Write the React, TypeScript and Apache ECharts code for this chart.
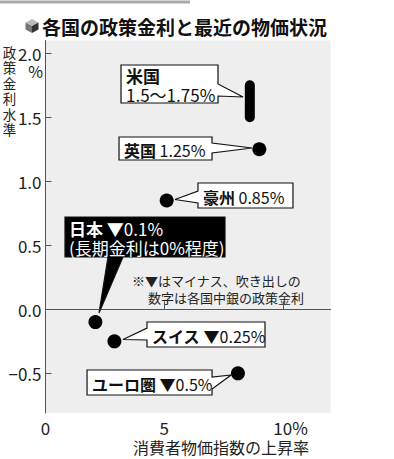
import React, { useEffect, useRef } from "react";
import * as echarts from "echarts";

// ---- data ----
const dotCountries = ["日本", "スイス", "ユーロ圏", "豪州", "英国"];
const dotCpi = [2.1, 2.9, 8.1, 5.1, 9.0];
const dotRate = [-0.1, -0.25, -0.5, 0.85, 1.25];
const usCpi = 8.6;
const usRateRange = [1.5, 1.75];

const calloutNames = ["米国", "英国", "豪州", "日本", "スイス", "ユーロ圏"];
const calloutValues = ["1.5〜1.75%", "1.25%", "0.85%", "▼0.1%", "▼0.25%", "▼0.5%"];
const japanNote = "(長期金利は0%程度)";

const xTickLabels = [0, 5, 10];
const yTickLabels = [-0.5, 0, 0.5, 1.0, 1.5, 2.0];

const titleText = "各国の政策金利と最近の物価状況";
const xAxisTitle = "消費者物価指数の上昇率";
const yAxisTitle = "政策金利水準";
const noteLines = ["※▼はマイナス、吹き出しの", "数字は各国中銀の政策金利"];

// ---- callout layout (pixel offsets from the anchor point) ----
type Layout = {
  box: number[];
  side: "left" | "right" | "bottom";
  base: number[];
  tip: number[];
  dark?: boolean;
  twoLine?: boolean;
};
const calloutLayout: Layout[] = [
  { box: [-128.8, -36.3, 97, 38], side: "right", base: [-17.3, -5.3], tip: [-6.8, -4.3], twoLine: true },
  { box: [-140.3, -12.3, 93, 23], side: "right", base: [-6.3, 3.7], tip: [-7.3, -1.3] },
  { box: [31.3, -17.5, 95, 25], side: "left", base: [-9.5, 2.5], tip: [8.3, -1] },
  { box: [-30.4, -105.1, 160, 40], side: "bottom", base: [12.6, 27.6], tip: [3.6, -9.1], dark: true },
  { box: [32.6, -19.3, 118, 25], side: "left", base: [-13.3, -1.3], tip: [8.6, -1.8] },
  { box: [-150.9, -3.3, 125, 25], side: "right", base: [3.7, 15.7], tip: [-6.9, 1.7] },
];

const FONT = "'Noto Sans CJK JP', 'Noto Sans', sans-serif";

function anchorFor(name: string): number[] {
  if (name === "米国") return [usCpi, (usRateRange[0] + usRateRange[1]) / 2];
  const i = dotCountries.indexOf(name);
  return [dotCpi[i], dotRate[i]];
}

export default function App() {
  const ref = useRef<HTMLDivElement>(null);
  useEffect(() => {
    if (!ref.current) return;
    const chart = echarts.init(ref.current, undefined, { renderer: "svg" });

    const calloutData = calloutNames.map((n, i) => {
      const a = anchorFor(n);
      return [a[0], a[1], i];
    });

    const renderItem = (params: any, api: any) => {
      const p = api.coord([api.value(0), api.value(1)]);
      const i = api.value(2);
      const lay = calloutLayout[i];
      const L = p[0] + lay.box[0];
      const T = p[1] + lay.box[1];
      const R = L + lay.box[2];
      const B = T + lay.box[3];
      const tip = [p[0] + lay.tip[0], p[1] + lay.tip[1]];
      let pts: number[][];
      if (lay.side === "right") {
        pts = [[L, T], [R, T], [R, p[1] + lay.base[0]], tip, [R, p[1] + lay.base[1]], [R, B], [L, B]];
      } else if (lay.side === "left") {
        pts = [[L, T], [R, T], [R, B], [L, B], [L, p[1] + lay.base[1]], tip, [L, p[1] + lay.base[0]]];
      } else {
        pts = [[L, T], [R, T], [R, B], [p[0] + lay.base[1], B], tip, [p[0] + lay.base[0], B], [L, B]];
      }
      const name = calloutNames[i];
      const val = calloutValues[i];
      let text: string;
      if (lay.twoLine) text = `{b|${name}}\n{n|${val}}`;
      else if (lay.dark) text = `{b|${name}} {n|${val}}\n{n|${japanNote}}`;
      else text = `{b|${name}} {n|${val}}`;
      const fill = lay.dark ? "#ffffff" : "#111111";
      const fs = lay.twoLine || lay.dark ? 17 : 16;
      return {
        type: "group",
        children: [
          {
            type: "polygon",
            shape: { points: pts },
            style: {
              fill: lay.dark ? "#000000" : "#ffffff",
              stroke: "#111111",
              lineWidth: 1.2,
              lineJoin: "miter",
            },
          },
          {
            type: "text",
            x: L + (lay.dark ? 4 : 5),
            y: (T + B) / 2 + 1,
            style: {
              text,
              align: "left",
              verticalAlign: "middle",
              fill,
              fontFamily: FONT,
              fontSize: fs,
              rich: {
                b: { fontWeight: "bold", fontSize: fs, lineHeight: 19, fill, fontFamily: FONT },
                n: { fontSize: fs, lineHeight: 19, fill, fontFamily: FONT },
              },
            },
          },
        ],
      };
    };

    const yTitleChars = yAxisTitle.split("").map((ch, k) => ({
      type: "text",
      x: 9.5,
      y: 51.5 + k * 15.5,
      style: {
        text: ch,
        fontSize: 13.5,
        fontFamily: FONT,
        fill: "#222",
        align: "center",
        verticalAlign: "middle",
      },
    }));

    const option: any = {
      animation: false,
      grid: {
        left: 45.5,
        right: 63.4,
        top: 40.5,
        bottom: 46,
        show: true,
        backgroundColor: "#eeeeee",
        borderWidth: 0,
      },
      xAxis: {
        type: "value",
        min: 0,
        max: 12,
        interval: 5,
        splitLine: { show: false },
        axisLine: { show: true, lineStyle: { color: "#555", width: 1 } },
        axisTick: { show: true, inside: true, length: 8, customValues: [5, 10], lineStyle: { color: "#555" } },
        axisLabel: {
          customValues: xTickLabels,
          margin: 6,
          color: "#222",
          fontSize: 17,
          fontFamily: FONT,
          formatter: (v: number) => (v === 10 ? "{p|10%}" : String(v)),
          rich: { p: { padding: [0, 0, 0, 15], fontSize: 17, color: "#222", fontFamily: FONT } },
        },
      },
      yAxis: {
        type: "value",
        min: -0.81,
        max: 2.1,
        splitLine: { show: false },
        axisLine: { show: true, lineStyle: { color: "#555", width: 1 } },
        axisTick: { show: true, inside: true, length: 6, customValues: yTickLabels, lineStyle: { color: "#555" } },
        axisLabel: {
          customValues: yTickLabels,
          margin: 4,
          color: "#222",
          fontSize: 17,
          fontFamily: FONT,
          formatter: (v: number) => (v < 0 ? "−" + Math.abs(v).toFixed(1) : v.toFixed(1)),
        },
      },
      series: [
        {
          type: "scatter",
          data: dotCpi.map((x, i) => [x, dotRate[i]]),
          symbolSize: 14,
          itemStyle: { color: "#000000", opacity: 1 },
          markLine: {
            silent: true,
            symbol: ["none", "none"],
            label: { show: false },
            lineStyle: { type: [1.5, 2], color: "#555", width: 1 },
            data: [{ yAxis: 0 }],
          },
          z: 3,
        },
        {
          type: "line",
          data: usRateRange.map((r) => [usCpi, r]),
          symbol: "none",
          lineStyle: { color: "#000000", width: 10, cap: "round", opacity: 1 },
          z: 3,
        },
        {
          type: "custom",
          data: calloutData,
          renderItem,
          z: 4,
        },
      ],
      graphic: [
        { type: "line", shape: { x1: 0, y1: 2, x2: 190, y2: 2 }, style: { stroke: "#aaaaaa", lineWidth: 3 } },
        { type: "polygon", shape: { points: [[32, 19], [38.5, 22.5], [32, 26], [25.5, 22.5]] }, style: { fill: "#bbbbbb" } },
        { type: "polygon", shape: { points: [[25.5, 22.5], [32, 26], [32, 33], [25.5, 29.5]] }, style: { fill: "#777777" } },
        { type: "polygon", shape: { points: [[32, 26], [38.5, 22.5], [38.5, 29.5], [32, 33]] }, style: { fill: "#333333" } },
        {
          type: "text",
          x: 42,
          y: 26,
          style: { text: titleText, fontSize: 19, fontWeight: "bold", fontFamily: FONT, fill: "#111", verticalAlign: "middle" },
        },
        ...yTitleChars,
        {
          type: "text",
          x: 35.5,
          y: 71,
          style: { text: "%", fontSize: 16, fontFamily: FONT, fill: "#222", align: "center", verticalAlign: "middle" },
        },
        {
          type: "text",
          x: 221,
          y: 447,
          style: { text: xAxisTitle, fontSize: 16, fontFamily: FONT, fill: "#222", align: "center", verticalAlign: "middle" },
        },
        {
          type: "text",
          x: 132,
          y: 280.5,
          style: { text: noteLines[0], fontSize: 13, fontFamily: FONT, fill: "#222", verticalAlign: "middle" },
        },
        {
          type: "text",
          x: 148,
          y: 297,
          style: { text: noteLines[1], fontSize: 13, fontFamily: FONT, fill: "#222", verticalAlign: "middle" },
        },
      ],
    };
    chart.setOption(option);
    return () => chart.dispose();
  }, []);
  return <div ref={ref} style={{ width: 394, height: 459, position: "absolute", left: 0, top: 0 }} />;
}
